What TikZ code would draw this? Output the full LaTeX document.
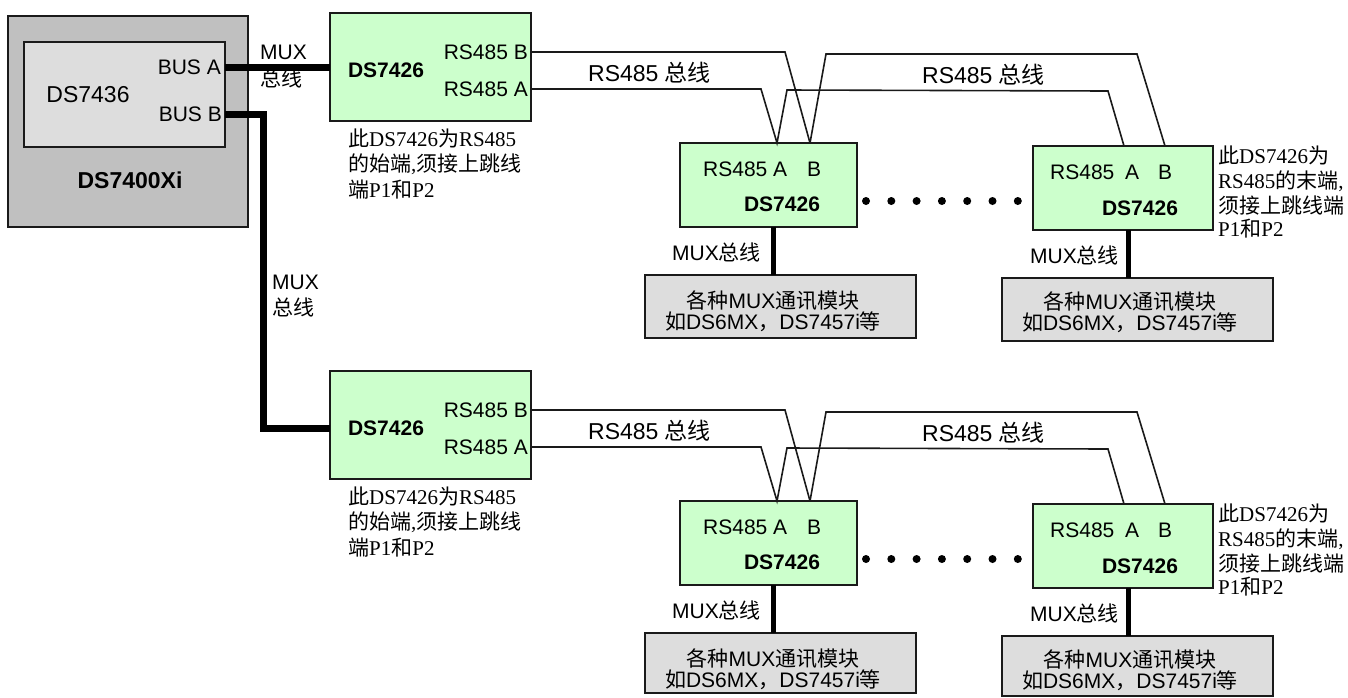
\documentclass[tikz,border=0pt]{standalone}
\usepackage{fontspec}
\setmainfont{Liberation Sans}
\newfontfamily\serifnote{Liberation Serif}
\newfontfamily\cjk{Noto Sans CJK SC}
\newcommand\zh[1]{{\cjk #1}}
\definecolor{boxgreen}{HTML}{CCFFCC}
\definecolor{gOuter}{HTML}{C0C0C0}
\definecolor{gInner}{HTML}{DDDDDD}
\definecolor{gModule}{HTML}{DDDDDD}
\definecolor{edge}{HTML}{1A1A1A}
\tikzset{
  box/.style={draw=edge, line width=1.5pt, inner sep=0pt, outer sep=0pt, anchor=center},
  greenbox/.style={box, fill=boxgreen},
  modbox/.style={box, fill=gModule},
  lab/.style={inner sep=0pt, font=\fontsize{21}{24}\selectfont},
  buslab/.style={inner sep=0pt, font=\fontsize{23}{26}\selectfont},
  modtext/.style={inner sep=0pt, align=center, font=\fontsize{21}{21}\selectfont},
  biglab/.style={inner sep=0pt, font=\fontsize{23}{26}\selectfont},
  boldlab/.style={inner sep=0pt, font=\fontsize{21}{24}\selectfont\bfseries},
  bigbold/.style={inner sep=0pt, font=\fontsize{23}{26}\selectfont\bfseries},
  note/.style={inner sep=0pt, anchor=west, font=\fontsize{21}{26}\selectfont\serifnote},
  wire/.style={line width=1.6pt, draw=edge},
  thickbus/.style={line width=7pt, draw=black},
  modbus/.style={line width=5pt, draw=black},
}
% #1 suffix, #2 vertical offset, #3 module box height
\newcommand\rssection[3]{%
  % first DS7426
  \node[greenbox, minimum width=201pt, minimum height=108pt] (t#1) at (430.5,67+#2) {};
  \node[boldlab] (t#1n) at (386,70+#2) {DS7426};
  \node[lab, anchor=east] (t#1b) at (528,52+#2) {RS485 B};
  \node[lab, anchor=east] (t#1a) at (528,89+#2) {RS485 A};
  \node[note] (n#1a) at (348,138+#2) {\zh{此}DS7426\zh{为}RS485};
  \node[note] (n#1b) at (348,164+#2) {\zh{的始端},\zh{须接上跳线}};
  \node[note] (n#1c) at (348,190+#2) {\zh{端}P1\zh{和}P2};
  % middle DS7426
  \node[greenbox, minimum width=177pt, minimum height=84pt] (m#1) at (768.5,185+#2) {};
  \node[lab, anchor=west] (m#1a) at (703,169+#2) {RS485 A};
  \node[lab, anchor=west] (m#1b) at (807,169+#2) {B};
  \node[boldlab] (m#1n) at (782,204+#2) {DS7426};
  % last DS7426
  \node[greenbox, minimum width=180pt, minimum height=84pt] (r#1) at (1123,188+#2) {};
  \node[lab, anchor=west] (r#1r) at (1050,172+#2) {RS485};
  \node[lab, anchor=west] (r#1a) at (1125,172+#2) {A};
  \node[lab, anchor=west] (r#1b) at (1158,172+#2) {B};
  \node[boldlab] (r#1n) at (1140,208+#2) {DS7426};
  \node[note] (e#1a) at (1218,155+#2) {\zh{此}DS7426\zh{为}};
  \node[note] (e#1b) at (1218,181+#2) {RS485\zh{的末端},};
  \node[note] (e#1c) at (1218,206+#2) {\zh{须接上跳线端}};
  \node[note] (e#1d) at (1218,229+#2) {P1\zh{和}P2};
  % bus labels
  \node[buslab, anchor=west] (l#1a) at (588,73+#2) {RS485 \zh{总线}};
  \node[buslab, anchor=west] (l#1b) at (922,75+#2) {RS485 \zh{总线}};
  % module boxes
  \node[modbox, minimum width=271pt, minimum height=#3pt, anchor=north] (gm#1) at (780.5,275+#2) {};
  \node[modtext] (gm#1t) at (773,311+#2) {\zh{各种}MUX\zh{通讯模块}\\\zh{如}DS6MX\zh{，}DS7457i\zh{等}};
  \node[modbox, minimum width=271pt, minimum height=#3pt, anchor=north] (gr#1) at (1137.5,278+#2) {};
  \node[modtext] (gr#1t) at (1130,312+#2) {\zh{各种}MUX\zh{通讯模块}\\\zh{如}DS6MX\zh{，}DS7457i\zh{等}};
  \node[lab, anchor=west] (x#1m) at (672,252+#2) {MUX\zh{总线}};
  \node[lab, anchor=west] (x#1r) at (1030,255+#2) {MUX\zh{总线}};
  % wire bend points
  \coordinate (w#1b1) at (785,52+#2);
  \coordinate (w#1a1) at (761,89+#2);
  \coordinate (w#1a2) at (787,90+#2);
  \coordinate (w#1a3) at (1108,91+#2);
  \coordinate (w#1b2) at (826,54+#2);
  \coordinate (w#1b3) at (1137,54+#2);
  \coordinate (p#1ma) at (777,0);
  \coordinate (p#1mb) at (810,0);
  \coordinate (p#1ra) at (1124,0);
  \coordinate (p#1rb) at (1165,0);
  \coordinate (p#1mv) at (773,0);
  \coordinate (p#1rv) at (1128,0);
  \draw[wire] (t#1.east |- t#1b) -- (w#1b1) -- (m#1.north -| p#1mb);
  \draw[wire] (t#1.east |- t#1a) -- (w#1a1) -- (m#1.north -| p#1ma) -- (w#1a2) -- (w#1a3) -- (r#1.north -| p#1ra);
  \draw[wire] (m#1.north -| p#1mb) -- (w#1b2) -- (w#1b3) -- (r#1.north -| p#1rb);
  \draw[modbus] (m#1.south -| p#1mv) -- (gm#1.north -| p#1mv);
  \draw[modbus] (r#1.south -| p#1rv) -- (gr#1.north -| p#1rv);
  \foreach \k in {0,...,6} \fill[black] (866+25.3*\k,201+#2) circle (4pt);
}
\begin{document}
\begin{tikzpicture}[x=1pt,y=-1pt]
  \useasboundingbox (0,0) rectangle (1348,697);
  \fill[white] (0,0) rectangle (1348,697);
  % main panel
  \node[box, fill=gOuter, minimum width=240pt, minimum height=211pt] (outer) at (128,121.5) {};
  \node[box, fill=gInner, minimum width=201pt, minimum height=105pt] (inner) at (124.5,94.5) {};
  \node[biglab] (ds7436) at (88,95) {DS7436};
  \node[lab, anchor=east] (busa) at (221,67) {BUS A};
  \node[lab, anchor=east] (busb) at (222,114) {BUS B};
  \node[bigbold] (ds7400) at (130,180) {DS7400Xi};
  \node[lab, anchor=west] (muxa1) at (260,52) {MUX};
  \node[lab, anchor=west] (muxa2) at (260,78) {\zh{总线}};
  \node[lab, anchor=west] (muxb1) at (272,282) {MUX};
  \node[lab, anchor=west] (muxb2) at (272,307) {\zh{总线}};
  \rssection{0}{0}{63}
  \rssection{1}{358}{60}
  \draw[thickbus] (inner.east |- busa) -- (t0.west |- busa);
  \coordinate (bend) at (263,428);
  \draw[thickbus] (inner.east |- busb) -| (bend) -- (t1.west |- bend);
\end{tikzpicture}
\end{document}
